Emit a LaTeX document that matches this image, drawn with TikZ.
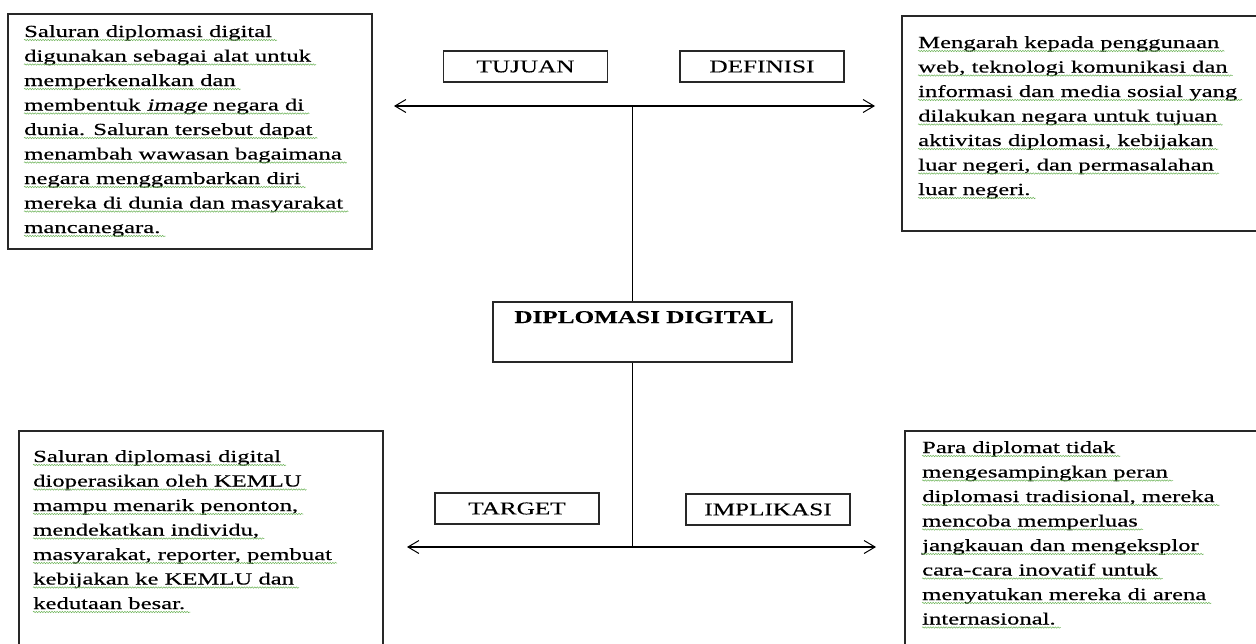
\documentclass[tikz,border=0pt]{standalone}
\usepackage{fontspec}
\setmainfont{Liberation Serif}[FakeStretch=1.45, FakeBold=0.4, ItalicFont={Liberation Serif}, ItalicFeatures={FakeStretch=1.45, FakeBold=0.4, FakeSlant=0.22}]
\newfontfamily\lblfont{Liberation Serif}[FakeStretch=1.4, FakeBold=0.3]
\usetikzlibrary{arrows.meta,decorations.pathmorphing}
\definecolor{squig}{RGB}{110,180,90}
\definecolor{edge}{RGB}{40,40,40}
\tikzset{
  box/.style={draw=edge, line width=1.2pt},
  lbl/.style={box, minimum width=164pt, minimum height=31pt, inner sep=0pt, font=\lblfont\fontsize{18}{20}\selectfont},
  txtline/.style={inner sep=0pt, anchor=base west, font=\fontsize{17}{20}\selectfont},
  squigline/.style={draw=squig, line width=0.5pt, decorate, decoration={snake, amplitude=0.7pt, segment length=2.6pt}},
  arr/.style={line width=1.3pt, -{Straight Barb[length=11pt,width=13pt,line width=1pt]}},
  conn/.style={line width=1.3pt}
}
\newcommand\textlines[4]{%
  \foreach \l [count=\i] in {#4} {
    \node[txtline] (#1\i) at (#2,{#3+24.5*(\i-1)}) {\l};
    \draw[squigline] ([yshift=-3pt]#1\i.base west) -- ([yshift=-3pt,xshift=5pt]#1\i.base east);
  }%
}
\begin{document}
\begin{tikzpicture}[x=1pt,y=-1pt]
\useasboundingbox (0,0) rectangle (1256,643);
% outer text boxes
\draw[box] (8,14) rectangle (372,249);
\draw[box] (902,16) rectangle (1275,231);
\draw[box] (19,431) rectangle (383,660);
\draw[box] (905,431) rectangle (1275,660);
% texts
\textlines{tl}{24}{37}{{Saluran diplomasi digital},{digunakan sebagai alat untuk},{memperkenalkan dan},{membentuk \textit{image} negara di},{dunia. Saluran tersebut dapat},{menambah wawasan bagaimana},{negara menggambarkan diri},{mereka di dunia dan masyarakat},{mancanegara.}}
\textlines{tr}{918}{48}{{Mengarah kepada penggunaan},{web, teknologi komunikasi dan},{informasi dan media sosial yang},{dilakukan negara untuk tujuan},{aktivitas diplomasi, kebijakan},{luar negeri, dan permasalahan},{luar negeri.}}
\textlines{bl}{33}{462}{{Saluran diplomasi digital},{dioperasikan oleh KEMLU},{mampu menarik penonton,},{mendekatkan individu,},{masyarakat, reporter, pembuat},{kebijakan ke KEMLU dan},{kedutaan besar.}}
\textlines{br}{922}{453}{{Para diplomat tidak},{mengesampingkan peran},{diplomasi tradisional, mereka},{mencoba memperluas},{jangkauan dan mengeksplor},{cara-cara inovatif untuk},{menyatukan mereka di arena},{internasional.}}
% label boxes
\node[lbl] (tujuan) at (525.5,66.5) {TUJUAN};
\node[lbl] (definisi) at (762,66.5) {DEFINISI};
\node[lbl] (target) at (517,508.5) {TARGET};
\node[lbl] (implikasi) at (768,509.5) {IMPLIKASI};
% centre box
\node[box, minimum width=299pt, minimum height=60pt, inner sep=0pt] (dd) at (642.5,332) {};
\node[inner sep=0pt, anchor=base, font=\lblfont\bfseries\fontsize{18}{20}\selectfont] (ddt) at (644,323) {DIPLOMASI DIGITAL};
% connectors
\coordinate (top) at (632.5,106);
\coordinate (bot) at (632.5,547);
\coordinate (tleft) at (394,106);
\coordinate (tright) at (875,106);
\coordinate (bleft) at (407,547);
\coordinate (bright) at (876,547);
\draw[conn] (top) -- (top |- dd.north);
\draw[conn] (bot |- dd.south) -- (bot);
\draw[arr] (top) -- (tleft);
\draw[arr] (top) -- (tright);
\draw[arr] (bot) -- (bleft);
\draw[arr] (bot) -- (bright);
\end{tikzpicture}
\end{document}
